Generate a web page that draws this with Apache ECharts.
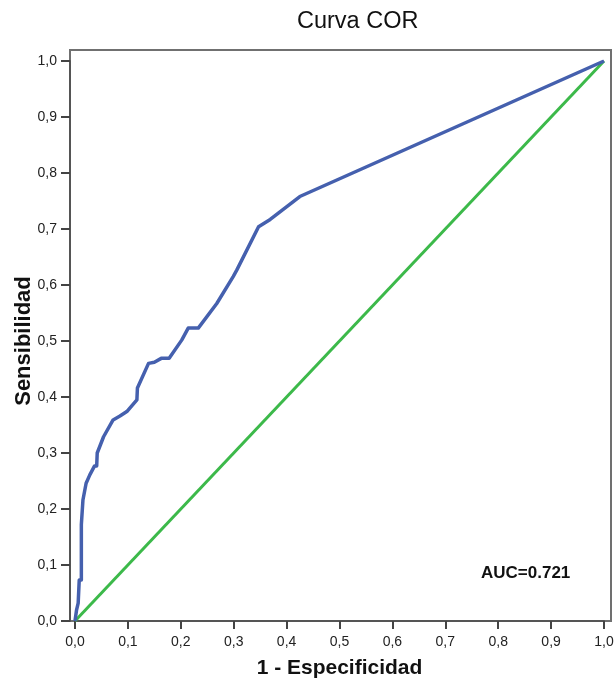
<!DOCTYPE html>
<html>
<head>
<meta charset="utf-8">
<script src="https://cdn.jsdelivr.net/npm/echarts@6/dist/echarts.min.js"></script>
<style>
  html, body { margin: 0; padding: 0; background: #fff; }
  #chart { width: 616px; height: 684px; }
</style>
</head>
<body>
<div id="chart"></div>
<script>
// ROC curve: 1 - specificity (x) against sensitivity (y)
const rocFpr = [0, 0.003, 0.006, 0.008, 0.012, 0.012, 0.015, 0.021, 0.028, 0.037, 0.041, 0.042,
  0.054, 0.072, 0.085, 0.098, 0.117, 0.118, 0.139, 0.150, 0.163, 0.178, 0.202, 0.214, 0.233,
  0.268, 0.299, 0.306, 0.347, 0.369, 0.425, 1];
const rocTpr = [0, 0.020, 0.032, 0.073, 0.073, 0.172, 0.216, 0.246, 0.261, 0.277, 0.277, 0.300,
  0.329, 0.359, 0.366, 0.374, 0.395, 0.416, 0.460, 0.462, 0.469, 0.469, 0.502, 0.523, 0.523,
  0.567, 0.615, 0.627, 0.704, 0.717, 0.758, 1];
// Reference (chance) line
const refX = [0, 1];
const refY = [0, 1];
const aucText = 'AUC=0.721';
const titleText = 'Curva COR';
const xName = '1 - Especificidad';
const yName = 'Sensibilidad';

const FONT = 'Liberation Sans, Arial, sans-serif';
const fmt = v => v.toFixed(1).replace('.', ',');

const chart = echarts.init(document.getElementById('chart'), null, { renderer: 'canvas' });

const pairs = (xs, ys) => xs.map((x, i) => [x, ys[i]]);

chart.setOption({
  animation: false,
  backgroundColor: '#fff',
  title: {
    text: titleText,
    left: 292,
    top: 5,
    textStyle: { fontFamily: FONT, fontSize: 23.5, fontWeight: 'normal', color: '#111' }
  },
  grid: [
    { left: 75, right: 12, top: 61, bottom: 63, containLabel: false, outerBoundsMode: 'none' },
    // outer frame
    { left: 70, right: 5, top: 50, bottom: 63, show: true, borderColor: '#707070', borderWidth: 2,
      backgroundColor: 'transparent', outerBoundsMode: 'none' }
  ],
  xAxis: [
    {
      type: 'value', gridIndex: 0, min: 0, max: 1, interval: 0.1,
      name: xName, nameLocation: 'middle', nameGap: 37, nameMoveOverlap: false,
      nameTextStyle: { fontFamily: FONT, fontSize: 21, fontWeight: 'bold', color: '#111' },
      axisLine: { show: true, onZero: false, lineStyle: { color: '#555', width: 2 } },
      axisTick: { show: true, length: 8, lineStyle: { color: '#444', width: 2 } },
      axisLabel: { fontFamily: FONT, fontSize: 14, color: '#222', margin: 14, formatter: fmt },
      splitLine: { show: false }
    },
    { type: 'value', gridIndex: 1, min: 0, max: 1, show: false }
  ],
  yAxis: [
    {
      type: 'value', gridIndex: 0, min: 0, max: 1, interval: 0.1, offset: 5,
      name: yName, nameLocation: 'middle', nameGap: 35, nameRotate: 90, nameMoveOverlap: false,
      nameTextStyle: { fontFamily: FONT, fontSize: 22, fontWeight: 'bold', color: '#111' },
      axisLine: { show: true, onZero: false, lineStyle: { color: '#555', width: 2 } },
      axisTick: { show: true, length: 9, lineStyle: { color: '#444', width: 2 } },
      axisLabel: { fontFamily: FONT, fontSize: 14, color: '#222', margin: 13, formatter: fmt },
      splitLine: { show: false }
    },
    { type: 'value', gridIndex: 1, min: 0, max: 1, show: false }
  ],
  graphic: [
    {
      type: 'text', left: 481, top: 565, silent: true,
      style: { text: aucText, fontFamily: FONT, fontSize: 17, fontWeight: 'bold', fill: '#111' }
    }
  ],
  series: [
    {
      name: 'Referencia', type: 'line', xAxisIndex: 0, yAxisIndex: 0,
      data: pairs(refX, refY), showSymbol: false, symbol: 'none',
      lineStyle: { color: '#3cb94a', width: 3 }, z: 2
    },
    {
      name: 'Curva COR', type: 'line', xAxisIndex: 0, yAxisIndex: 0,
      data: pairs(rocFpr, rocTpr), showSymbol: false, symbol: 'none',
      lineStyle: { color: '#4560ae', width: 3.5, join: 'round' }, z: 3
    }
  ]
});
</script>
</body>
</html>
